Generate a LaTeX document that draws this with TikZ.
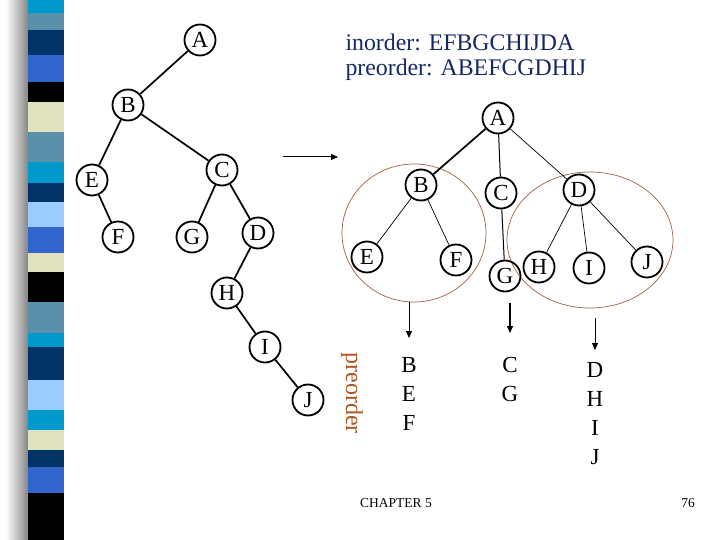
\documentclass[tikz,border=0pt]{standalone}
\usepackage{fontspec}
\setmainfont{Liberation Serif}
\usetikzlibrary{arrows.meta}
\definecolor{cCyan}{RGB}{0,153,204}
\definecolor{cSteel}{RGB}{90,145,170}
\definecolor{cNavy}{RGB}{0,51,102}
\definecolor{cRoyal}{RGB}{51,102,204}
\definecolor{cBeige}{RGB}{225,225,190}
\definecolor{cLight}{RGB}{153,204,255}
\definecolor{textNavy}{RGB}{20,40,100}
\definecolor{ringBrown}{RGB}{160,95,65}
\definecolor{labBrown}{RGB}{175,85,35}
\begin{document}
\begin{tikzpicture}[x=1pt,y=-1pt,
  tnode/.style={circle,draw,line width=1.8pt,minimum size=31pt,inner sep=0pt,font=\fontsize{23}{23}\selectfont},
  tedge/.style={line width=1.7pt},
  thin edge/.style={line width=0.7pt},
  ring/.style={draw=ringBrown,line width=0.7pt},
  colt/.style={font=\fontsize{23}{23}\selectfont}]
\useasboundingbox (0,0) rectangle (720,540);
% shadow and striped bar
\shade[left color=white,right color=black!50] (6,0) rectangle (29,540);
\foreach \ya/\yb/\c in {0/13/cCyan,13/30/cSteel,30/55/cNavy,55/82/cRoyal,82/102/black,102/132/cBeige,132/162/cSteel,162/183/cCyan,183/202/cNavy,202/227/cLight,227/253/cRoyal,253/272/cBeige,272/302/black,302/333/cSteel,333/347/cCyan,347/380/cNavy,380/410/cLight,410/430/cCyan,430/450/cBeige,450/467/cNavy,467/493/cRoyal,493/540/black}
  \fill[\c] (28,\ya) rectangle (64,\yb);
% left tree
\node[tnode] (lA) at (200,40) {A};
\node[tnode] (lB) at (128,105) {B};
\node[tnode] (lE) at (92,180) {E};
\node[tnode] (lC) at (222,170) {C};
\node[tnode] (lF) at (118,237) {F};
\node[tnode] (lG) at (192,237) {G};
\node[tnode] (lD) at (258,233) {D};
\node[tnode] (lH) at (227,293) {H};
\node[tnode] (lI) at (265,347) {I};
\node[tnode] (lJ) at (308,400) {J};
\draw[tedge] (lA)--(lB) (lB)--(lE) (lB)--(lC) (lE)--(lF) (lC)--(lG) (lC)--(lD) (lD)--(lH) (lH)--(lI) (lI)--(lJ);
% traversal text
\node[anchor=west,text=textNavy,font=\fontsize{23.8}{24}\selectfont] (tin) at (342,42) {inorder: EFBGCHIJDA};
\node[anchor=west,text=textNavy,font=\fontsize{23.8}{24}\selectfont] (tpre) at (342,70) {preorder: ABEFCGDHIJ};
% transformation arrow
\coordinate (arS) at (283,157);
\coordinate (arE) at (338,157);
\draw[line width=1pt,-{Triangle[length=7pt,width=6pt]}] (arS)--(arE);
% rings
\draw[ring] (414,233) ellipse [x radius=72,y radius=69];
\draw[ring] (590,240) ellipse [x radius=83,y radius=68];
% right tree
\node[tnode] (rA) at (498,118) {A};
\node[tnode] (rB) at (421,185) {B};
\node[tnode] (rC) at (501,193) {C};
\node[tnode] (rD) at (579,190) {D};
\node[tnode] (rE) at (367,257) {E};
\node[tnode] (rF) at (456,260) {F};
\node[tnode] (rG) at (505,276) {G};
\node[tnode] (rH) at (539,267) {H};
\node[tnode] (rI) at (589,268) {I};
\node[tnode] (rJ) at (647,262) {J};
\draw[tedge] (rA)--(rB);
\draw[line width=1pt] (rA)--(rC) (rC)--(rG);
\draw[thin edge] (rA)--(rD) (rB)--(rE) (rB)--(rF) (rD)--(rH) (rD)--(rI) (rD)--(rJ);
% down arrows
\coordinate (d1s) at (409,302); \coordinate (d1e) at (409,338);
\coordinate (d2s) at (510,303); \coordinate (d2e) at (510,333);
\coordinate (d3s) at (595,318); \coordinate (d3e) at (595,350);
\draw[line width=0.8pt,-{Triangle[length=7pt,width=6pt]}] (d1s)--(d1e);
\draw[line width=1.5pt,-{Triangle[length=7pt,width=6pt]}] (d2s)--(d2e);
\draw[line width=0.8pt,-{Triangle[length=7pt,width=6pt]}] (d3s)--(d3e);
% columns
\node[colt] (cB) at (409,365) {B};
\node[colt] (cE) at (409,394) {E};
\node[colt] (cF) at (409,423) {F};
\node[colt] (cC) at (510,365) {C};
\node[colt] (cG) at (510,394) {G};
\node[colt] (cD) at (595,370) {D};
\node[colt] (cH) at (595,399) {H};
\node[colt] (cI) at (595,428) {I};
\node[colt] (cJ) at (595,457) {J};
% preorder label
\node[rotate=-90,text=labBrown,font=\fontsize{24}{24}\selectfont] (plab) at (352,393) {preorder};
% footer
\node[font=\fontsize{13.5}{14}\selectfont] (chap) at (396,503) {CHAPTER 5};
\node[font=\fontsize{13.5}{14}\selectfont] (pg) at (688,503) {76};
\end{tikzpicture}
\end{document}
